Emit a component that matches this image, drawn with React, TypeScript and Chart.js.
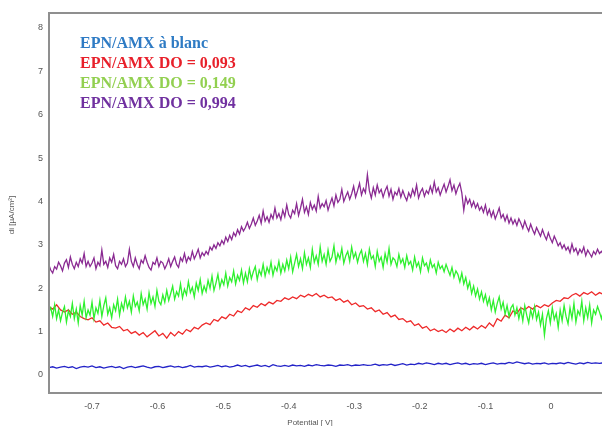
import { useEffect, useRef } from "react";
import { Chart, registerables } from "chart.js";

Chart.register(...registerables);

// Potential sampling (V)
const POTENTIAL_START = -0.766;
const STEP_COARSE = 0.006; // blanc & DO 0,093
const STEP_FINE = 0.003; // DO 0,149 & DO 0,994

const X_TICKS = ["-0.7", "-0.6", "-0.5", "-0.4", "-0.3", "-0.2", "-0.1", "0"];
const Y_TICKS = ["0", "1", "2", "3", "4", "5", "6", "7", "8"];

const SERIES_NAMES = [
  "EPN/AMX à blanc",
  "EPN/AMX DO = 0,093",
  "EPN/AMX DO = 0,149",
  "EPN/AMX DO = 0,994",
];

// di [µA/cm²]
const blanc = [
  0.17, 0.19, 0.16, 0.18, 0.2, 0.17, 0.19, 0.15, 0.18, 0.2,
  0.18, 0.21, 0.17, 0.19, 0.16, 0.18, 0.2, 0.17, 0.19, 0.15,
  0.18, 0.2, 0.17, 0.19, 0.21, 0.18, 0.16, 0.19, 0.2, 0.17,
  0.19, 0.21, 0.18, 0.2, 0.17, 0.19, 0.22, 0.18, 0.2, 0.19,
  0.21, 0.18, 0.2, 0.22, 0.19, 0.21, 0.18, 0.2, 0.23, 0.2,
  0.22, 0.19, 0.21, 0.23, 0.2, 0.22, 0.19, 0.24, 0.21, 0.2,
  0.22, 0.2, 0.23, 0.21, 0.22, 0.2, 0.23, 0.21, 0.24, 0.22,
  0.21, 0.23, 0.22, 0.2, 0.23, 0.22, 0.24, 0.21, 0.23, 0.22,
  0.24, 0.22, 0.23, 0.25, 0.22, 0.24, 0.23, 0.25, 0.22, 0.24,
  0.26, 0.23, 0.25, 0.24, 0.27, 0.25, 0.28, 0.26, 0.24, 0.27,
  0.25, 0.27, 0.24, 0.26, 0.28, 0.25, 0.27, 0.24, 0.26, 0.25,
  0.27, 0.24, 0.26, 0.28, 0.25, 0.27, 0.26, 0.29, 0.27, 0.3,
  0.28, 0.26, 0.28, 0.25, 0.27, 0.26, 0.28, 0.25, 0.27, 0.26,
  0.28, 0.26, 0.29, 0.27, 0.25, 0.28, 0.26, 0.29, 0.27, 0.28,
  0.27, 0.28,
];

const do093 = [
  1.58, 1.52, 1.62, 1.5, 1.45, 1.5, 1.4, 1.45, 1.35, 1.3,
  1.27, 1.32, 1.22, 1.25, 1.15, 1.2, 1.1, 1.08, 1.12, 1.02,
  1.05, 0.96, 1.0, 0.92, 0.98, 0.88, 0.95, 1.02, 0.9, 0.96,
  0.85, 0.98, 0.9, 1.0, 0.94, 1.05, 1.0, 1.1, 1.06, 1.15,
  1.2, 1.16, 1.28, 1.24, 1.34, 1.3, 1.4, 1.36, 1.48, 1.44,
  1.55, 1.5, 1.6, 1.56, 1.65, 1.6, 1.68, 1.64, 1.72, 1.7,
  1.78, 1.74, 1.8, 1.76, 1.84, 1.8, 1.86, 1.82, 1.88, 1.8,
  1.84, 1.78, 1.8, 1.72, 1.76, 1.68, 1.72, 1.62, 1.66, 1.58,
  1.6, 1.52, 1.55, 1.46, 1.5, 1.4, 1.44, 1.34, 1.38, 1.28,
  1.3, 1.22, 1.25, 1.14, 1.18, 1.08, 1.12, 1.02, 1.06, 1.0,
  1.04, 0.98, 1.06, 1.0, 1.08, 1.02, 1.1, 1.04, 1.12, 1.06,
  1.14, 1.08, 1.2, 1.12, 1.3, 1.24, 1.38, 1.32, 1.48, 1.42,
  1.55, 1.5, 1.58, 1.52, 1.6, 1.55, 1.62, 1.58, 1.66, 1.72,
  1.7, 1.78, 1.76, 1.84, 1.88, 1.82, 1.9, 1.86, 1.92, 1.84,
  1.9, 1.86,
];

const do149 = [
  1.45, 1.55, 1.35, 1.62, 1.3, 1.5, 1.25, 1.45, 1.58, 1.22, 1.48, 1.35, 1.65, 1.3, 1.52, 1.2, 1.6, 1.38, 1.7, 1.32,
  1.5, 1.38, 1.68, 1.3, 1.55, 1.42, 1.72, 1.35, 1.6, 1.78, 1.4, 1.55, 1.32, 1.62, 1.48, 1.75, 1.38, 1.65, 1.5, 1.8,
  1.55, 1.7, 1.45, 1.82, 1.58, 1.68, 1.48, 1.88, 1.62, 1.75, 1.52, 1.9, 1.65, 1.8, 1.58, 1.95, 1.7, 1.62, 1.85, 1.68,
  1.95, 1.72, 1.88, 2.05, 1.75, 1.92, 1.82, 2.1, 1.78, 1.98, 1.85, 2.15, 1.9, 2.02, 1.8, 2.12, 1.95, 2.2, 1.88, 2.05,
  1.92, 2.18, 2.0, 2.28, 1.95, 2.12, 2.32, 2.02, 2.2, 2.08, 2.35, 2.05, 2.25, 2.15, 2.4, 2.1, 2.3, 2.18, 2.42, 2.12,
  2.35, 2.15, 2.45, 2.22, 2.38, 2.5, 2.2, 2.42, 2.3, 2.55, 2.28, 2.48, 2.35, 2.6, 2.3, 2.5, 2.4, 2.62, 2.35, 2.55,
  2.4, 2.65, 2.45, 2.72, 2.38, 2.58, 2.78, 2.5, 2.68, 2.45, 2.82, 2.55, 2.7, 2.48, 2.9, 2.6, 2.75, 2.55, 2.95, 2.62,
  2.78, 2.55, 2.88, 2.62, 2.72, 2.98, 2.6, 2.8, 2.68, 2.92, 2.58, 2.75, 2.85, 2.62, 2.95, 2.7, 2.82, 2.6, 2.78, 2.88,
  2.62, 2.8, 2.55, 2.9, 2.68, 2.75, 2.5, 2.85, 2.62, 2.72, 2.48, 2.8, 2.6, 2.92, 2.55, 2.7, 2.65, 2.5, 2.78, 2.58,
  2.68, 2.48, 2.75, 2.55, 2.62, 2.42, 2.72, 2.5, 2.6, 2.38, 2.7, 2.52, 2.58, 2.4, 2.65, 2.48, 2.55, 2.35, 2.6, 2.45,
  2.52, 2.38, 2.55, 2.42, 2.3, 2.48, 2.25, 2.4, 2.32, 2.15, 2.35, 2.1, 2.25, 2.0, 2.15, 1.88, 2.05, 1.82, 1.98, 1.75,
  1.92, 1.7, 1.85, 1.62, 1.78, 1.5, 1.72, 1.45, 1.65, 1.8, 1.52, 1.68, 1.4, 1.6, 1.35, 1.55, 1.62, 1.38, 1.55, 1.3,
  1.52, 1.25, 1.6, 1.38, 1.2, 1.5, 1.32, 1.58, 1.28, 1.45, 1.15, 1.4, 0.92, 1.3, 1.48, 1.2, 1.55, 1.28, 1.42, 1.1,
  1.5, 1.25, 1.6, 1.35, 1.18, 1.55, 1.3, 1.65, 1.22, 1.48, 1.38, 1.7, 1.25, 1.55, 1.32, 1.62, 1.2, 1.5, 1.4, 1.58,
  1.45, 1.3, 1.5,
];

const do994 = [
  2.55, 2.42, 2.35, 2.5, 2.44, 2.6, 2.52, 2.4, 2.58, 2.66, 2.48, 2.72, 2.55, 2.45, 2.6, 2.5, 2.68, 2.58, 2.8, 2.5,
  2.62, 2.5, 2.58, 2.7, 2.45, 2.6, 2.52, 2.88, 2.55, 2.62, 2.48, 2.7, 2.6, 2.78, 2.52, 2.45, 2.62, 2.55, 2.68, 2.5,
  2.58, 2.9, 2.62, 2.5, 2.7, 2.55, 2.45, 2.65, 2.58, 2.75, 2.6, 2.48, 2.42, 2.6, 2.55, 2.7, 2.5, 2.62, 2.58, 2.45,
  2.55, 2.68, 2.5, 2.62, 2.72, 2.55, 2.48, 2.7, 2.62, 2.8, 2.6, 2.72, 2.65, 2.85, 2.68, 2.78, 2.9, 2.7, 2.82, 2.75,
  2.85, 2.78, 2.95, 2.88, 3.0, 2.92, 3.05, 2.98, 3.1, 3.02, 3.18, 3.08, 3.22, 3.12, 3.28, 3.2, 3.35, 3.25, 3.42, 3.32,
  3.4, 3.52, 3.38, 3.48, 3.62, 3.45, 3.55, 3.68, 3.5, 3.78, 3.55, 3.65, 3.52, 3.7, 3.6, 3.85, 3.62, 3.72, 3.58, 3.8,
  3.65, 3.92, 3.7, 3.62, 3.8, 3.72, 3.95, 3.68, 3.85, 4.05, 3.75, 3.88, 3.7, 3.98, 3.82, 3.92, 3.78, 4.12, 3.85, 3.95,
  3.88, 4.02, 3.8, 3.95, 4.08, 3.9, 4.15, 3.98, 4.05, 4.28, 4.0, 4.12, 4.22, 4.05, 4.18, 4.35, 4.1, 4.25, 4.42, 4.15,
  4.3, 4.2, 4.62, 4.25, 4.08, 4.32, 4.15, 4.38, 4.2, 4.28, 4.1, 4.25, 4.35, 4.12, 4.28, 4.05, 4.22, 4.15, 4.3, 4.1,
  4.25, 4.12, 4.02, 4.2, 4.1, 4.28, 4.15, 4.38, 4.08, 4.22, 4.3, 4.12, 4.25, 4.18, 4.35, 4.2, 4.45, 4.22, 4.32, 4.15,
  4.28, 4.4, 4.22, 4.35, 4.5, 4.25, 4.38, 4.18, 4.32, 4.42, 4.2, 3.8, 4.1, 3.95, 4.05, 3.88, 4.0, 3.85, 3.95, 3.8,
  3.88, 3.75, 3.92, 3.7, 3.82, 3.65, 3.78, 3.6, 3.72, 3.85, 3.62, 3.7, 3.55, 3.68, 3.5, 3.62, 3.48, 3.58, 3.45, 3.6,
  3.5, 3.38, 3.55, 3.42, 3.32, 3.48, 3.35, 3.25, 3.4, 3.3, 3.2, 3.35, 3.22, 3.12, 3.28, 3.15, 3.05, 3.2, 3.1, 2.98,
  3.05, 2.92, 3.0, 2.88, 2.95, 2.82, 3.02, 2.85, 2.92, 2.78, 2.9, 2.82, 2.95, 2.75, 2.88, 2.8, 2.72, 2.85, 2.78, 2.9,
  2.8, 2.85, 2.78,
];

const LINE_COLORS = ["#2323c8", "#ee2a2a", "#2ef02e", "#8a2a92"];
const LEGEND_COLORS = ["#2e7bc4", "#e8202a", "#92d050", "#7030a0"];

function toPoints(values: number[], step: number) {
  return values.map((v, i) => ({ x: POTENTIAL_START + i * step, y: v }));
}

const framePlugin = {
  id: "frameAndText",
  afterDraw(chart: any) {
    const ctx = chart.ctx as CanvasRenderingContext2D;
    const { left, right, top, bottom } = chart.chartArea;
    ctx.save();
    ctx.strokeStyle = "#8f8f8f";
    ctx.lineWidth = 2;
    ctx.beginPath();
    ctx.moveTo(left, top);
    ctx.lineTo(right + 2, top);
    ctx.moveTo(left, top - 1);
    ctx.lineTo(left, bottom + 1);
    ctx.moveTo(left - 1, bottom);
    ctx.lineTo(right + 2, bottom);
    ctx.stroke();

    // legend text
    ctx.font = "bold 16px 'Liberation Serif', 'Times New Roman', serif";
    ctx.textAlign = "left";
    ctx.textBaseline = "alphabetic";
    SERIES_NAMES.forEach((name, i) => {
      ctx.fillStyle = LEGEND_COLORS[i];
      ctx.fillText(name, left + 31, top + 35 + i * 20);
    });

    // axis titles
    ctx.fillStyle = "#555";
    ctx.font = "8px 'Liberation Sans', Arial, sans-serif";
    ctx.textAlign = "center";
    ctx.textBaseline = "middle";
    ctx.fillText("Potential [ V]", 310, 423);
    ctx.translate(12, 215);
    ctx.rotate(-Math.PI / 2);
    ctx.fillText("di [µA/cm²]", 0, 0);
    ctx.restore();
  },
};

export default function App() {
  const ref = useRef<HTMLCanvasElement | null>(null);
  useEffect(() => {
    document.body.style.margin = "0";
    const canvas = ref.current;
    if (!canvas) return;
    const seriesValues = [blanc, do093, do149, do994];
    const seriesSteps = [STEP_COARSE, STEP_COARSE, STEP_FINE, STEP_FINE];
    const order = [0, 2, 1, 3];
    const chart = new Chart(canvas, {
      type: "line",
      data: {
        datasets: order.map((k) => ({
          label: SERIES_NAMES[k],
          data: toPoints(seriesValues[k], seriesSteps[k]),
          borderColor: LINE_COLORS[k],
          backgroundColor: LINE_COLORS[k],
          borderWidth: 1.3,
          pointRadius: 0,
          tension: 0,
          fill: false,
        })),
      },
      options: {
        animation: false,
        responsive: false,
        maintainAspectRatio: false,
        events: [],
        layout: { padding: { top: 13, right: 0, left: 0, bottom: 0 } },
        plugins: { legend: { display: false }, tooltip: { enabled: false }, title: { display: false } },
        scales: {
          x: {
            type: "linear",
            min: -0.7656,
            max: 0.0778,
            grid: { display: false, drawTicks: false },
            border: { display: false },
            afterFit: (s: any) => {
              s.height = 33;
            },
            ticks: {
              stepSize: 0.1,
              includeBounds: false,
              padding: 8,
              color: "#555",
              font: { size: 9, family: "'Liberation Sans', Arial, sans-serif" },
              maxRotation: 0,
              autoSkip: false,
              callback: (v: any) => {
                const idx = Math.round((Number(v) + 0.7) / 0.1);
                return X_TICKS[idx] ?? "";
              },
            },
          },
          y: {
            type: "linear",
            min: -0.415,
            max: 8.346,
            grid: { display: false, drawTicks: false },
            border: { display: false },
            afterFit: (s: any) => {
              s.width = 49;
            },
            ticks: {
              stepSize: 1,
              includeBounds: false,
              padding: 6,
              color: "#555",
              font: { size: 9, family: "'Liberation Sans', Arial, sans-serif" },
              callback: (v: any) => Y_TICKS[Math.round(Number(v))] ?? "",
            },
          },
        },
      },
      plugins: [framePlugin],
    });
    return () => chart.destroy();
  }, []);
  return (
    <div style={{ width: 602, height: 426, position: "relative", background: "#fff" }}>
      <canvas ref={ref} width={602} height={426} style={{ display: "block" }} />
    </div>
  );
}
